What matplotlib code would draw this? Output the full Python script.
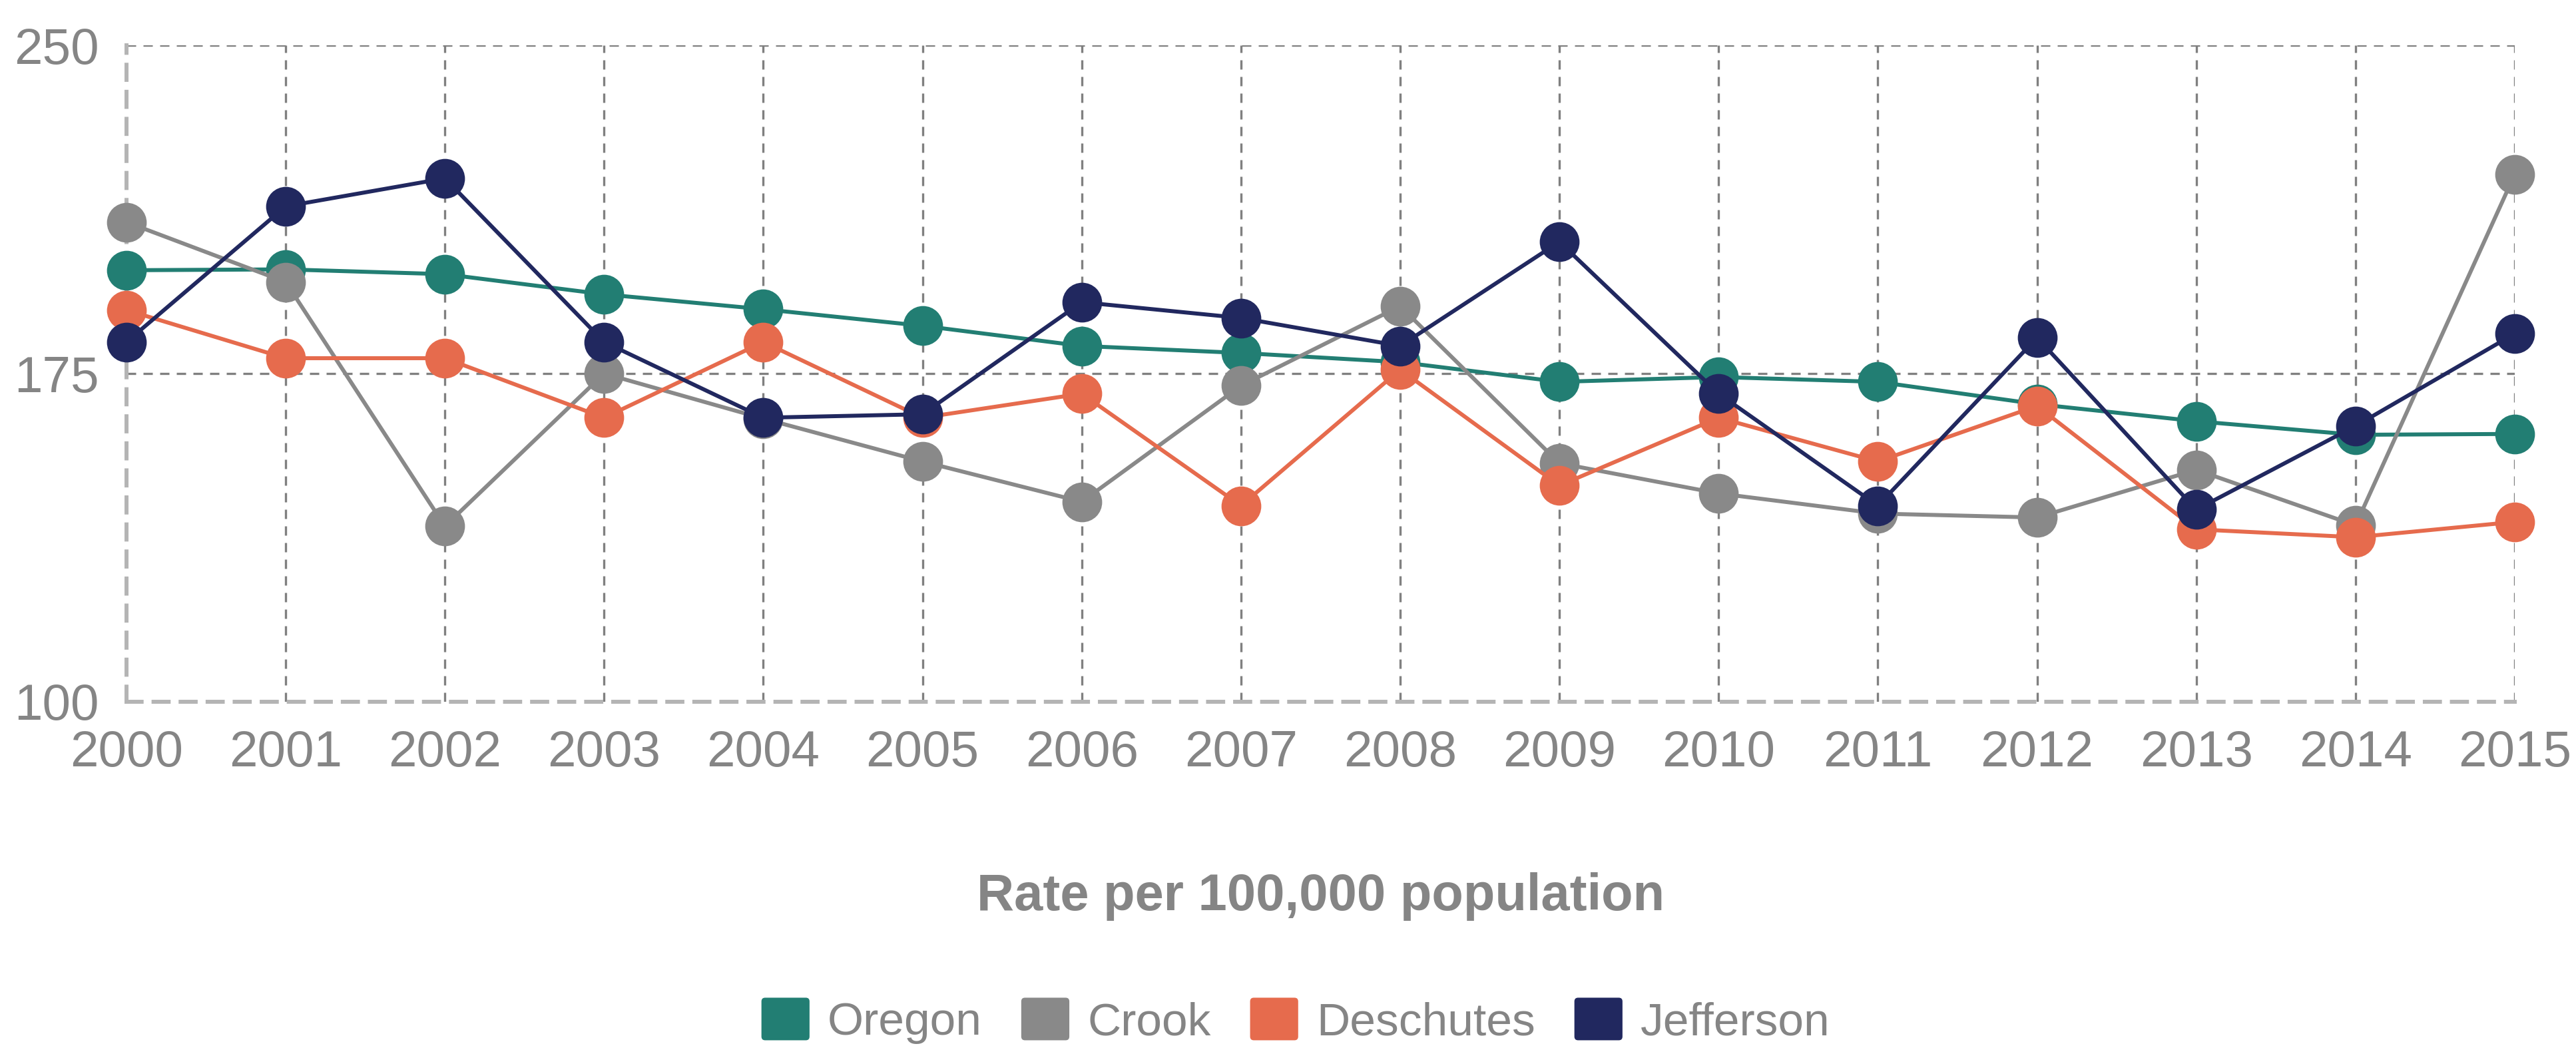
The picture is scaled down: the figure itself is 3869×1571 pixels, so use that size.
import matplotlib
matplotlib.use('Agg')
import matplotlib.pyplot as plt
from matplotlib.patches import Patch, FancyBboxPatch
from matplotlib.legend_handler import HandlerPatch

# values (rate per 100,000 population)
years = list(range(2000, 2016))
oregon = [198.6, 198.8, 197.7, 193.1, 189.7, 185.9, 181.3, 179.7, 177.6, 173.1, 174.2, 173.1, 168.0, 164.1, 161.0, 161.2]
crook = [209.6, 195.9, 140.1, 175.0, 164.7, 154.9, 145.7, 172.2, 190.4, 154.5, 147.6, 143.0, 142.1, 153.0, 140.3, 220.5]
deschutes = [189.5, 178.5, 178.5, 164.9, 182.2, 164.9, 170.4, 144.8, 175.9, 149.4, 164.9, 154.9, 167.6, 139.4, 137.6, 141.1]
jefferson = [182.2, 213.2, 219.6, 182.2, 164.9, 165.7, 191.3, 187.7, 181.3, 205.1, 170.4, 144.8, 183.2, 143.9, 163.0, 184.1]

names = ['Oregon', 'Crook', 'Deschutes', 'Jefferson']
colors = ['#227E73', '#898989', '#E66B4D', '#21285F']
y_ticks = [100, 175, 250]

text_gray = '#858585'
plt.rcParams['font.family'] = ['Liberation Sans', 'DejaVu Sans']


class RoundSquare(HandlerPatch):
    # legend key drawn as a square with slightly rounded corners
    def create_artists(self, legend, orig_handle, xdescent, ydescent,
                       width, height, fontsize, trans):
        box = FancyBboxPatch((-xdescent, -ydescent), width, height,
                             boxstyle='round,pad=0,rounding_size=4',
                             facecolor=orig_handle.get_facecolor(),
                             edgecolor='none', transform=trans)
        return [box]


fig = plt.figure(figsize=(38.69, 15.71), dpi=100)
ax = fig.add_axes([0.0491, 0.3291, 0.9271, 0.6276])

for vals, name, c in zip([oregon, crook, deschutes, jefferson], names, colors):
    ax.plot(years, vals, color=c, lw=4.3, marker='o', markersize=43,
            markeredgewidth=0, label=name, clip_on=False, zorder=3)

ax.set_xlim(2000, 2015)
ax.set_ylim(100, 250)
ax.set_xticks(years)
ax.set_yticks(y_ticks)
ax.tick_params(length=0, labelsize=55, labelcolor=text_gray, pad=30)

# dashed grid, skipping the lines that sit under the axis spines
ax.grid(True, color='#808080', lw=2.4, linestyle=(0, (4.2, 3.3)))
ax.xaxis.get_gridlines()[0].set_visible(False)
ax.yaxis.get_gridlines()[0].set_visible(False)

for side in ['top', 'right']:
    ax.spines[side].set_visible(False)
for side in ['left', 'bottom']:
    ax.spines[side].set_color('#B4B4B4')
    ax.spines[side].set_linewidth(4.3)
    ax.spines[side].set_linestyle((0, (3.8, 3)))

fig.text(0.5127, 0.1426, 'Rate per 100,000 population', ha='center', va='center',
         fontsize=56, fontweight='bold', color=text_gray)

handles = [Patch(facecolor=c, edgecolor='none') for c in colors]
leg = fig.legend(handles, names, loc='center', bbox_to_anchor=(0.503, 0.024), ncol=4,
                 frameon=False, fontsize=50, handlelength=1.04, handleheight=1.04,
                 handletextpad=0.39, columnspacing=0.85, borderpad=0,
                 handler_map={Patch: RoundSquare()})
for t in leg.get_texts():
    t.set_color(text_gray)

fig.savefig('out.png', dpi=100)
